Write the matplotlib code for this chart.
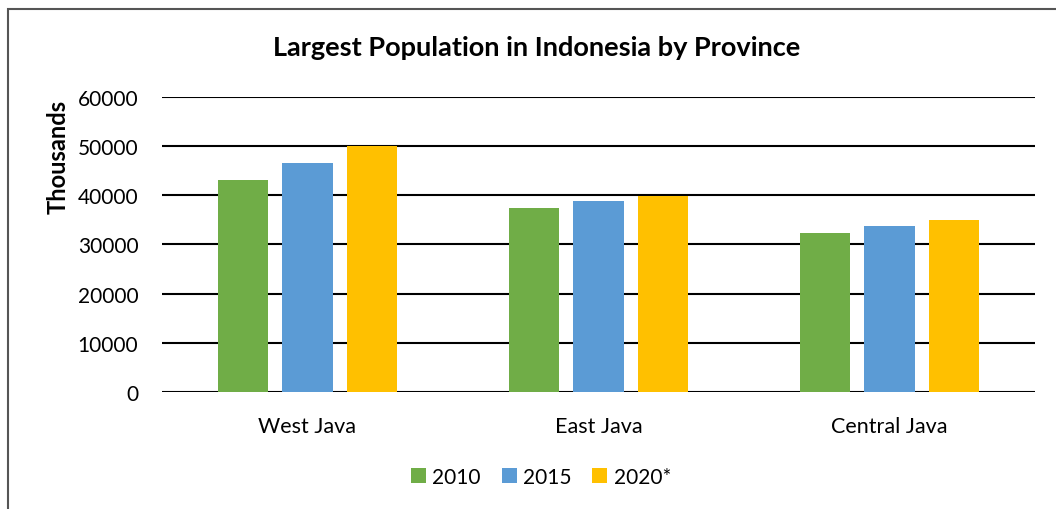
import matplotlib
matplotlib.use("Agg")
import matplotlib.pyplot as plt
from matplotlib.patches import Rectangle
import numpy as np

provinces = ["West Java", "East Java", "Central Java"]
series = ["2010", "2015", "2020*"]
v2010 = [43200, 37500, 32400]
v2015 = [46650, 38750, 33750]
v2020 = [50000, 39850, 34900]
colors = ["#70AD47", "#5B9BD5", "#FFC000"]
yticks = [0, 10000, 20000, 30000, 40000, 50000, 60000]

plt.rcParams['font.family'] = ['Lato', 'DejaVu Sans']

W, H = 1056, 510
fig = plt.figure(figsize=(W / 100, H / 100), dpi=100)
ax = fig.add_axes([162 / W, 1 - 393 / H, (1035 - 162) / W, (393 - 98) / H])

x = np.arange(len(provinces))
bw = 0.172
off = 0.223
for i, (vals, lab) in enumerate(zip([v2010, v2015, v2020], series)):
    ax.bar(x + (i - 1) * off, vals, width=bw, color=colors[i], label=lab, zorder=3)

ax.set_xlim(-0.5, 2.5)
ax.set_ylim(0, 60000)
ax.set_yticks(yticks)
ax.set_yticklabels([str(t) for t in yticks], fontsize=15)
ax.set_xticks(x)
ax.set_xticklabels(provinces, fontsize=15.5)
ax.tick_params(axis='y', length=0, pad=17, colors='#000000')
ax.tick_params(axis='x', length=0, pad=17, colors='#000000')
ax.yaxis.grid(True, color='black', linewidth=1.5, zorder=0)
for s in ax.spines.values():
    s.set_visible(False)

fig.text(58 / W, 1 - 157 / H, "Thousands", rotation=90, ha='center', va='center',
         fontsize=17, fontweight='bold')

fig.text(537 / W, 1 - 48 / H, "Largest Population in Indonesia by Province",
         ha='center', va='center', fontsize=19.5, fontweight='bold')

leg = fig.legend(loc='center', bbox_to_anchor=(541 / W, 1 - 478 / H), ncol=3,
                 frameon=False, fontsize=15, handlelength=0.72, handleheight=0.72,
                 handletextpad=0.3, columnspacing=1.0)

fig.patches.append(Rectangle((8 / W, -0.1), 1.2, 1 - 10 / H + 0.1,
                             transform=fig.transFigure, fill=False,
                             edgecolor='#555555', linewidth=1.5))

fig.savefig("out.png", dpi=100)
